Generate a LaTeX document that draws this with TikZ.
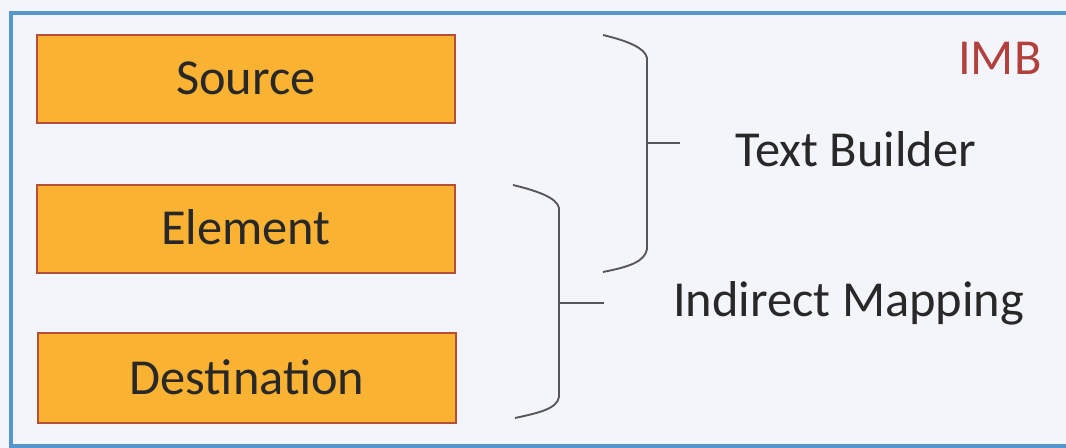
\documentclass[tikz,border=0pt]{standalone}
\usepackage{fontspec}
\setmainfont{Carlito}
\definecolor{bgc}{RGB}{244,245,251}
\definecolor{framec}{RGB}{85,150,205}
\definecolor{boxfill}{RGB}{250,178,50}
\definecolor{boxline}{RGB}{180,80,55}
\definecolor{txt}{RGB}{40,40,40}
\definecolor{imbc}{RGB}{178,64,60}
\definecolor{brc}{RGB}{85,85,90}
\begin{document}
\begin{tikzpicture}[x=0.75pt,y=-0.75pt,
  stepbox/.style={draw=boxline,line width=1.1pt,fill=boxfill,minimum width=313.5pt,minimum height=66pt,inner sep=0pt,text height=24pt,text depth=0pt,text=txt,font=\fontsize{37.8pt}{42pt}\selectfont},
  lbl/.style={anchor=base west,inner sep=0pt,text=txt,font=\fontsize{37.8pt}{42pt}\selectfont},
  brk/.style={draw=brc,line width=1.4pt}]
\useasboundingbox (0,0) rectangle (1066,448);
\fill[bgc] (0,0) rectangle (1066,448);
\draw[framec,line width=2.4pt] (1066,13) -- (11,13) -- (11,446) -- (1066,446);
\node[stepbox] (src) at (246,79) {Source};
\node[stepbox] (elem) at (246,229) {Element};
\node[stepbox,minimum height=67.5pt] (dst) at (247,378) {Destination};
\node[lbl,text=imbc] (imb) at (958,75) {IMB};
\node[lbl] (tb) at (735,167) {Text Builder};
\node[lbl] (im) at (673,317) {Indirect Mapping};
% top bracket
\coordinate (b1a) at (603,35);
\coordinate (b1b) at (647,58);
\coordinate (b1c) at (647,249);
\coordinate (b1d) at (603,272);
\coordinate (b1m) at (647,143);
\coordinate (b1t) at (680,143);
\draw[brk] (b1a) .. controls (628,41) and (645,48) .. (b1b) -- (b1c) .. controls (645,262) and (628,267) .. (b1d);
\draw[brk] (b1m) -- (b1t);
% bottom bracket
\coordinate (b2a) at (513,185);
\coordinate (b2b) at (559,208);
\coordinate (b2c) at (559,397);
\coordinate (b2d) at (515,418);
\coordinate (b2m) at (559,303);
\coordinate (b2t) at (604,303);
\draw[brk] (b2a) .. controls (538,191) and (557,198) .. (b2b) -- (b2c) .. controls (557,409) and (538,413) .. (b2d);
\draw[brk] (b2m) -- (b2t);
\end{tikzpicture}
\end{document}
